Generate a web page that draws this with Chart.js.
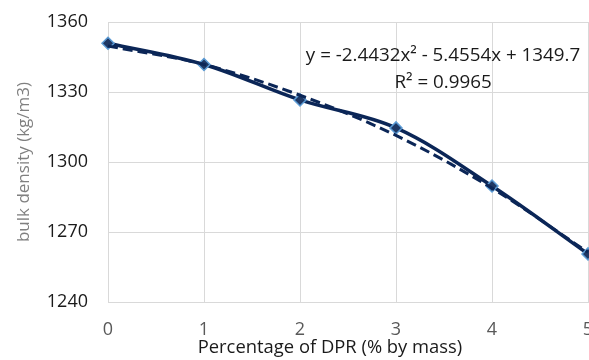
<!DOCTYPE html>
<html>
<head>
<meta charset="utf-8">
<script src="https://cdn.jsdelivr.net/npm/chart.js@4.4.1/dist/chart.umd.min.js"></script>
<style>
  html, body { margin: 0; padding: 0; background: #fff; }
  #wrap { width: 589px; height: 360px; }
</style>
</head>
<body>
<div id="wrap"><canvas id="densityChart"></canvas></div>
<script>
// Values
const dprPercent = [0, 1, 2, 3, 4, 5];
const bulkDensity = [1350.9, 1341.8, 1326.6, 1314.6, 1289.7, 1260.6];
// Poly trendline (as labelled on the chart) at the same x values
const trendDensity = [1349.7, 1341.8, 1328.6, 1311.4, 1288.8, 1261.3];
const yTicks = [1240, 1270, 1300, 1330, 1360];
const xTicks = [0, 1, 2, 3, 4, 5];
const equationText = 'y = -2.4432x\u00B2 - 5.4554x + 1349.7';
const rSquaredText = 'R\u00B2 = 0.9965';
const xTitle = 'Percentage of DPR (% by mass)';
const yTitle = 'bulk density (kg/m3)';

const navy = '#0b2657';
const gridGray = '#d9d9d9';
const fontFamily = "'Open Sans', 'Liberation Sans', sans-serif";

// Text overlays: trendline equation and the x axis title
const textPlugin = {
    id: 'textPlugin',
    afterDraw(chart) {
        const ctx = chart.ctx;
        ctx.save();
        ctx.textAlign = 'center';
        ctx.textBaseline = 'middle';
        ctx.fillStyle = '#1a1a1a';
        ctx.font = '18.8px ' + fontFamily;
        ctx.fillText(equationText, 443, 56);
        ctx.fillText(rSquaredText, 443, 83);
        ctx.font = '18.4px ' + fontFamily;
        ctx.fillText(xTitle, 330, 348);
        ctx.restore();
    }
};

const ctx = document.getElementById('densityChart').getContext('2d');
new Chart(ctx, {
    type: 'line',
    data: {
        datasets: [{
            label: 'Poly. (bulk density)',
            data: dprPercent.map((x, i) => ({ x: x, y: trendDensity[i] })),
            borderColor: navy,
            borderWidth: 3,
            borderDash: [10, 5],
            pointRadius: 0,
            cubicInterpolationMode: 'monotone',
            fill: false,
            clip: false,
            order: 0
        }, {
            label: 'bulk density',
            data: dprPercent.map((x, i) => ({ x: x, y: bulkDensity[i] })),
            borderColor: navy,
            borderWidth: 3.5,
            tension: 0.35,
            pointStyle: 'rectRot',
            pointRadius: 6,
            pointBackgroundColor: '#1f3864',
            pointBorderColor: '#5b9bd5',
            pointBorderWidth: 1.5,
            fill: false,
            clip: false,
            order: 1
        }]
    },
    options: {
        responsive: true,
        maintainAspectRatio: false,
        animation: false,
        layout: { autoPadding: false, padding: { top: 22, right: 1, bottom: 0, left: 0 } },
        plugins: {
            legend: { display: false },
            tooltip: { enabled: false }
        },
        scales: {
            x: {
                type: 'linear',
                min: 0,
                max: 5,
                afterBuildTicks: s => { s.ticks = xTicks.map(v => ({ value: v })); },
                afterFit: s => { s.height = 58; s.paddingLeft = 0; s.paddingRight = 0; },
                grid: { color: gridGray, drawTicks: false },
                border: { color: gridGray },
                ticks: {
                    color: '#595959',
                    padding: 17,
                    maxRotation: 0,
                    callback: v => String(v),
                    font: { family: fontFamily, size: 18 }
                }
            },
            y: {
                min: 1240,
                max: 1360,
                afterBuildTicks: s => { s.ticks = yTicks.map(v => ({ value: v })); },
                afterFit: s => { s.width = 108; s.paddingTop = 0; s.paddingBottom = 0; },
                grid: { color: gridGray, drawTicks: false },
                border: { color: gridGray },
                ticks: {
                    color: '#1a1a1a',
                    padding: 20,
                    callback: v => String(v),
                    font: { family: fontFamily, size: 18 }
                },
                title: {
                    display: true,
                    text: yTitle,
                    color: '#7f7f7f',
                    padding: { top: 14, bottom: 0 },
                    font: { family: fontFamily, size: 17 }
                }
            }
        }
    },
    plugins: [textPlugin]
});
</script>
</body>
</html>
